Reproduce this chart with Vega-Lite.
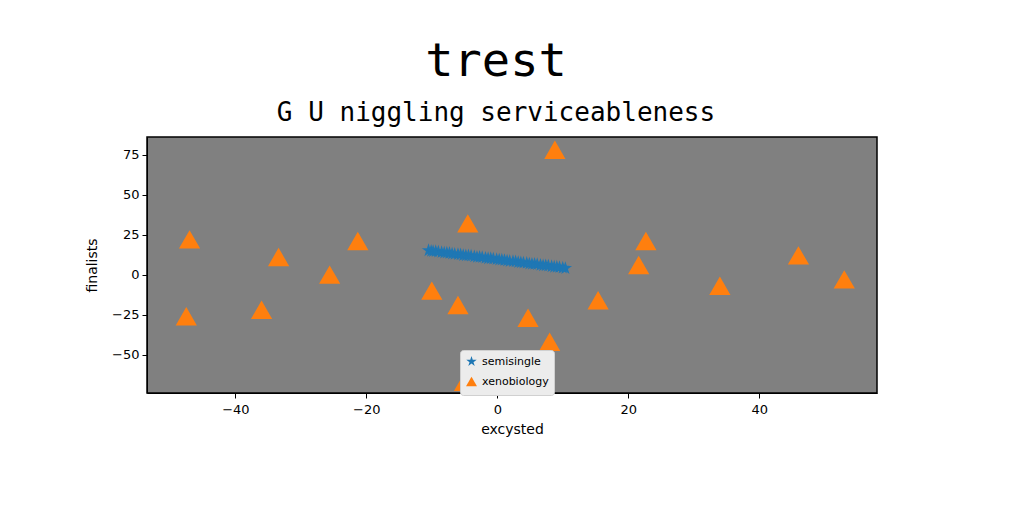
{
  "$schema": "https://vega.github.io/schema/vega-lite/v6.json",
  "width": 730,
  "height": 256,
  "autosize": "none",
  "padding": {"left": 147, "top": 137, "right": 147, "bottom": 119},
  "background": "white",
  "title": {
    "text": "trest",
    "subtitle": "G U niggling serviceableness",
    "font": "DejaVu Sans Mono",
    "fontSize": 47,
    "fontWeight": "normal",
    "color": "black",
    "subtitleFont": "DejaVu Sans Mono",
    "subtitleFontSize": 26,
    "subtitleColor": "black",
    "subtitlePadding": 14,
    "offset": 10,
    "anchor": "middle",
    "dx": -16
  },
  "config": {
    "view": {"fill": "#808080", "stroke": "black", "strokeWidth": 1.5},
    "axis": {
      "grid": false,
      "labelFont": "DejaVu Sans",
      "labelFontSize": 13,
      "labelColor": "black",
      "titleFont": "DejaVu Sans",
      "titleFontSize": 14,
      "titleFontWeight": "normal",
      "titleColor": "black",
      "domainColor": "black",
      "tickColor": "black",
      "tickSize": 5,
      "labelPadding": 3
    }
  },
  "data": {
    "values": [
      {"x": -10.5, "y": 15.1, "series": "semisingle"},
      {"x": -10.1, "y": 14.7, "series": "semisingle"},
      {"x": -9.8, "y": 14.5, "series": "semisingle"},
      {"x": -9.4, "y": 14.5, "series": "semisingle"},
      {"x": -9.0, "y": 14.3, "series": "semisingle"},
      {"x": -8.5, "y": 13.9, "series": "semisingle"},
      {"x": -8.1, "y": 13.6, "series": "semisingle"},
      {"x": -7.7, "y": 13.6, "series": "semisingle"},
      {"x": -7.3, "y": 13.4, "series": "semisingle"},
      {"x": -6.9, "y": 13.0, "series": "semisingle"},
      {"x": -6.5, "y": 12.8, "series": "semisingle"},
      {"x": -6.0, "y": 12.7, "series": "semisingle"},
      {"x": -5.6, "y": 12.5, "series": "semisingle"},
      {"x": -5.2, "y": 12.1, "series": "semisingle"},
      {"x": -4.8, "y": 11.9, "series": "semisingle"},
      {"x": -4.4, "y": 11.9, "series": "semisingle"},
      {"x": -4.0, "y": 11.7, "series": "semisingle"},
      {"x": -3.5, "y": 11.3, "series": "semisingle"},
      {"x": -3.1, "y": 11.0, "series": "semisingle"},
      {"x": -2.7, "y": 11.0, "series": "semisingle"},
      {"x": -2.3, "y": 10.8, "series": "semisingle"},
      {"x": -1.8, "y": 10.4, "series": "semisingle"},
      {"x": -1.4, "y": 10.1, "series": "semisingle"},
      {"x": -1.0, "y": 10.1, "series": "semisingle"},
      {"x": -0.6, "y": 9.9, "series": "semisingle"},
      {"x": -0.1, "y": 9.5, "series": "semisingle"},
      {"x": 0.3, "y": 9.3, "series": "semisingle"},
      {"x": 0.7, "y": 9.2, "series": "semisingle"},
      {"x": 1.1, "y": 9.0, "series": "semisingle"},
      {"x": 1.5, "y": 8.6, "series": "semisingle"},
      {"x": 1.9, "y": 8.4, "series": "semisingle"},
      {"x": 2.4, "y": 8.3, "series": "semisingle"},
      {"x": 2.8, "y": 8.1, "series": "semisingle"},
      {"x": 3.2, "y": 7.7, "series": "semisingle"},
      {"x": 3.6, "y": 7.5, "series": "semisingle"},
      {"x": 4.0, "y": 7.4, "series": "semisingle"},
      {"x": 4.5, "y": 7.2, "series": "semisingle"},
      {"x": 4.9, "y": 6.8, "series": "semisingle"},
      {"x": 5.3, "y": 6.6, "series": "semisingle"},
      {"x": 5.7, "y": 6.6, "series": "semisingle"},
      {"x": 6.1, "y": 6.4, "series": "semisingle"},
      {"x": 6.6, "y": 6.0, "series": "semisingle"},
      {"x": 7.0, "y": 5.7, "series": "semisingle"},
      {"x": 7.4, "y": 5.7, "series": "semisingle"},
      {"x": 7.8, "y": 5.5, "series": "semisingle"},
      {"x": 8.3, "y": 5.1, "series": "semisingle"},
      {"x": 8.7, "y": 4.8, "series": "semisingle"},
      {"x": 9.1, "y": 4.8, "series": "semisingle"},
      {"x": 9.5, "y": 4.6, "series": "semisingle"},
      {"x": 10.0, "y": 4.2, "series": "semisingle"},
      {"x": 10.4, "y": 4.0, "series": "semisingle"},
      {"x": -47, "y": 22, "series": "xenobiology"},
      {"x": -47.5, "y": -26, "series": "xenobiology"},
      {"x": -33.4, "y": 11, "series": "xenobiology"},
      {"x": -36, "y": -22, "series": "xenobiology"},
      {"x": -25.6, "y": 0, "series": "xenobiology"},
      {"x": -21.3, "y": 21, "series": "xenobiology"},
      {"x": -4.5, "y": 32, "series": "xenobiology"},
      {"x": 8.8, "y": 78, "series": "xenobiology"},
      {"x": -10, "y": -10, "series": "xenobiology"},
      {"x": -6, "y": -19, "series": "xenobiology"},
      {"x": 4.7, "y": -27, "series": "xenobiology"},
      {"x": 8, "y": -42, "series": "xenobiology"},
      {"x": 15.4, "y": -16, "series": "xenobiology"},
      {"x": 21.6, "y": 6, "series": "xenobiology"},
      {"x": 22.7, "y": 21, "series": "xenobiology"},
      {"x": 34, "y": -7, "series": "xenobiology"},
      {"x": 46, "y": 12, "series": "xenobiology"},
      {"x": 53, "y": -3, "series": "xenobiology"},
      {"x": -5, "y": -67, "series": "xenobiology"}
    ]
  },
  "encoding": {
    "x": {
      "field": "x", "type": "quantitative",
      "scale": {"domain": [-53.5, 58], "nice": false, "zero": false},
      "axis": {"values": [-40, -20, 0, 20, 40], "title": "excysted", "titlePadding": 6, "labelPadding": 5}
    },
    "y": {
      "field": "y", "type": "quantitative",
      "scale": {"domain": [-74, 86], "nice": false, "zero": false},
      "axis": {"values": [-50, -25, 0, 25, 50, 75], "title": "finalists", "titlePadding": 12}
    },
    "color": {
      "field": "series", "type": "nominal",
      "scale": {"domain": ["semisingle", "xenobiology"], "range": ["#1f77b4", "#ff7f0e"]},
      "legend": {
        "title": null,
        "orient": "none",
        "legendX": 313,
        "legendY": 213,
        "fillColor": "#ececec",
        "strokeColor": "#d0d0d0",
        "padding": 5,
        "cornerRadius": 3,
        "labelFont": "DejaVu Sans",
        "labelFontSize": 11,
        "labelColor": "black",
        "symbolSize": 120,
        "symbolOpacity": 1,
        "rowPadding": 4,
        "labelLimit": 200
      }
    },
    "shape": {
      "field": "series", "type": "nominal",
      "scale": {"domain": ["semisingle", "xenobiology"], "range": ["M0,-1L0.2245,-0.309L0.951,-0.309L0.363,0.118L0.588,0.809L0,0.382L-0.588,0.809L-0.363,0.118L-0.951,-0.309L-0.2245,-0.309Z", "triangle-up"]}
    }
  },
  "layer": [
    {
      "transform": [{"filter": "datum.series == 'semisingle'"}],
      "mark": {"type": "point", "filled": true, "opacity": 1, "size": 200}
    },
    {
      "transform": [{"filter": "datum.series == 'xenobiology'"}],
      "mark": {"type": "point", "filled": true, "opacity": 1, "size": 450}
    }
  ]
}
